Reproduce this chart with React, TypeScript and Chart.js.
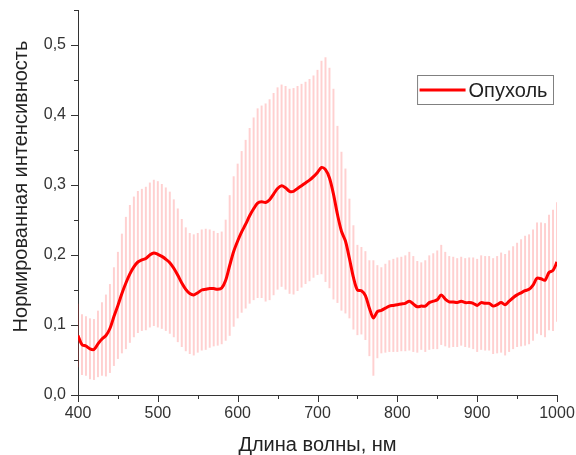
import { useEffect, useRef } from 'react';
import { Chart, registerables } from 'chart.js';

Chart.register(...registerables);

const wavelengths = [
  400, 405, 410, 415, 420, 425, 430, 435, 440, 445,
  450, 455, 460, 465, 470, 475, 480, 485, 490, 495,
  500, 505, 510, 515, 520, 525, 530, 535, 540, 545,
  550, 555, 560, 565, 570, 575, 580, 585, 590, 595,
  600, 605, 610, 615, 620, 625, 630, 635, 640, 645,
  650, 655, 660, 665, 670, 675, 680, 685, 690, 695,
  700, 705, 710, 715, 720, 725, 730, 735, 740, 745,
  750, 755, 760, 765, 770, 775, 780, 785, 790, 795,
  800, 805, 810, 815, 820, 825, 830, 835, 840, 845,
  850, 855, 860, 865, 870, 875, 880, 885, 890, 895,
  900, 905, 910, 915, 920, 925, 930, 935, 940, 945,
  950, 955, 960, 965, 970, 975, 980, 985, 990, 995,
  1000,
];

const meanIntensity = [
  0.085, 0.072, 0.070, 0.066, 0.065, 0.073, 0.080, 0.085, 0.095, 0.112,
  0.128, 0.145, 0.160, 0.173, 0.183, 0.190, 0.193, 0.195, 0.200, 0.203,
  0.201, 0.198, 0.194, 0.189, 0.181, 0.171, 0.160, 0.151, 0.145, 0.143,
  0.146, 0.150, 0.151, 0.152, 0.152, 0.151, 0.153, 0.164, 0.185, 0.205,
  0.220, 0.233, 0.244, 0.256, 0.266, 0.274, 0.276, 0.275, 0.279, 0.287,
  0.295, 0.299, 0.296, 0.291, 0.291, 0.295, 0.299, 0.303, 0.307, 0.312,
  0.318, 0.325, 0.322, 0.310, 0.287, 0.258, 0.234, 0.220, 0.195, 0.168,
  0.150, 0.149, 0.142, 0.124, 0.110, 0.119, 0.121, 0.124, 0.127, 0.128,
  0.129, 0.130, 0.131, 0.134, 0.130, 0.126, 0.127, 0.127, 0.132, 0.134,
  0.136, 0.143, 0.137, 0.133, 0.133, 0.132, 0.134, 0.132, 0.132, 0.131,
  0.128, 0.132, 0.131, 0.131, 0.127, 0.129, 0.132, 0.129, 0.134, 0.139,
  0.143, 0.146, 0.149, 0.151, 0.157, 0.167, 0.166, 0.164, 0.175, 0.178,
  0.190,
];

const errorIntensity = [
  0.045, 0.043, 0.042, 0.043, 0.043, 0.047, 0.052, 0.058, 0.063, 0.070,
  0.076, 0.085, 0.094, 0.098, 0.100, 0.101, 0.101, 0.102, 0.103, 0.104,
  0.104, 0.103, 0.102, 0.101, 0.098, 0.095, 0.091, 0.088, 0.086, 0.086,
  0.085, 0.086, 0.086, 0.084, 0.082, 0.080, 0.080, 0.086, 0.100, 0.107,
  0.110, 0.115, 0.120, 0.125, 0.130, 0.135, 0.137, 0.141, 0.143, 0.144,
  0.144, 0.144, 0.145, 0.146, 0.147, 0.146, 0.145, 0.144, 0.144, 0.144,
  0.146, 0.152, 0.160, 0.157, 0.150, 0.126, 0.113, 0.103, 0.085, 0.074,
  0.064, 0.062, 0.063, 0.068, 0.082, 0.066, 0.061, 0.063, 0.065, 0.066,
  0.067, 0.067, 0.068, 0.070, 0.068, 0.065, 0.062, 0.065, 0.067, 0.068,
  0.070, 0.071, 0.067, 0.065, 0.064, 0.063, 0.063, 0.063, 0.064, 0.065,
  0.066, 0.067, 0.067, 0.067, 0.068, 0.069, 0.071, 0.072, 0.072, 0.073,
  0.074, 0.076, 0.078, 0.078, 0.079, 0.079, 0.080, 0.081, 0.082, 0.086,
  0.085,
];

const seriesLabel = 'Опухоль';
const xTitle = 'Длина волны, нм';
const yTitle = 'Нормированная интенсивность';

const FONT = 'Arial, "Liberation Sans", sans-serif';
const AXIS_COLOR = '#333333';
const TEXT_COLOR = '#222222';

export default function App() {
  const canvasRef = useRef<HTMLCanvasElement>(null);

  useEffect(() => {
    if (!canvasRef.current) return;

    const lineData = wavelengths.map((x, i) => ({ x, y: meanIntensity[i] }));
    const barData = wavelengths.map((x, i) => ({
      x,
      y: [meanIntensity[i] - errorIntensity[i], meanIntensity[i] + errorIntensity[i]],
    }));

    const decorPlugin = {
      id: 'decor',
      afterDraw(chart: any) {
        const { ctx, chartArea } = chart;
        const xs = chart.scales.x;
        const ys = chart.scales.y;
        ctx.save();
        ctx.strokeStyle = AXIS_COLOR;
        ctx.lineWidth = 1;
        ctx.beginPath();
        xs.ticks.forEach((t: any) => {
          const px = Math.round(xs.getPixelForValue(t.value)) + 0.5;
          const len = Math.round(t.value) % 100 === 0 ? 7 : 4;
          ctx.moveTo(px, chartArea.bottom);
          ctx.lineTo(px, chartArea.bottom + len);
        });
        ys.ticks.forEach((t: any) => {
          const py = Math.round(ys.getPixelForValue(t.value)) + 0.5;
          const len = Math.round(t.value * 100) % 10 === 0 ? 7 : 4;
          ctx.moveTo(chartArea.left, py);
          ctx.lineTo(chartArea.left - len, py);
        });
        ctx.stroke();

        // Y axis title
        ctx.fillStyle = TEXT_COLOR;
        ctx.font = `20px ${FONT}`;
        ctx.textAlign = 'center';
        ctx.textBaseline = 'middle';
        ctx.save();
        ctx.translate(21, (chartArea.top + chartArea.bottom) / 2 - 16);
        ctx.rotate(-Math.PI / 2);
        ctx.fillText(yTitle, 0, 0);
        ctx.restore();

        // Legend
        const ds = chart.data.datasets[0];
        ctx.font = `20px ${FONT}`;
        const textW = ctx.measureText(ds.label).width;
        const boxRight = chartArea.right - 3.5;
        const boxTop = chartArea.top + 65.5;
        const boxH = 29;
        const lineLen = 46;
        const boxW = 2 + lineLen + 3 + textW + 6;
        const boxLeft = boxRight - boxW;
        ctx.fillStyle = '#ffffff';
        ctx.fillRect(boxLeft, boxTop, boxW, boxH);
        ctx.strokeStyle = '#808080';
        ctx.lineWidth = 1;
        ctx.strokeRect(boxLeft, boxTop, boxW, boxH);
        ctx.strokeStyle = ds.borderColor;
        ctx.lineWidth = 3;
        ctx.beginPath();
        ctx.moveTo(boxLeft + 2, boxTop + boxH / 2);
        ctx.lineTo(boxLeft + 2 + lineLen, boxTop + boxH / 2);
        ctx.stroke();
        ctx.fillStyle = TEXT_COLOR;
        ctx.textAlign = 'left';
        ctx.textBaseline = 'middle';
        ctx.fillText(ds.label, boxLeft + 2 + lineLen + 3, boxTop + boxH / 2 + 1);
        ctx.restore();
      },
    };

    const chart = new Chart(canvasRef.current, {
      type: 'line',
      data: {
        datasets: [
          {
            type: 'line',
            label: seriesLabel,
            data: lineData,
            borderColor: '#ff0000',
            borderWidth: 3,
            pointRadius: 0,
            tension: 0.3,
            fill: false,
            order: 0,
          } as any,
          {
            type: 'bar',
            label: 'error',
            data: barData,
            backgroundColor: 'rgba(255, 40, 40, 0.22)',
            borderWidth: 0,
            barThickness: 1.3,
            order: 1,
          } as any,
        ],
      },
      options: {
        responsive: false,
        animation: false,
        layout: { padding: { top: 10, right: 19, left: 0, bottom: 0 } },
        plugins: {
          legend: { display: false },
          tooltip: { enabled: false },
        },
        scales: {
          x: {
            type: 'linear',
            min: 400,
            max: 1000,
            offset: false,
            grid: { display: false, drawTicks: false },
            border: { display: true, color: AXIS_COLOR, width: 1 },
            ticks: {
              stepSize: 50,
              autoSkip: false,
              maxRotation: 0,
              padding: 9,
              color: AXIS_COLOR,
              font: { size: 16, family: FONT },
              callback: (v: any) => (Math.round(v) % 100 === 0 ? String(Math.round(v)) : ''),
            },
            title: {
              display: true,
              text: xTitle,
              color: TEXT_COLOR,
              font: { size: 20, family: FONT, lineHeight: 1 },
              padding: { top: 0, bottom: 0 },
            },
            afterFit: (s: any) => {
              s.height = 60;
              s.paddingLeft = 0;
              s.paddingRight = 0;
              s.paddingTop = 0;
              s.paddingBottom = 0;
            },
          },
          y: {
            type: 'linear',
            min: 0,
            max: 0.55,
            grid: { display: false, drawTicks: false },
            border: { display: true, color: AXIS_COLOR, width: 1 },
            ticks: {
              stepSize: 0.05,
              autoSkip: false,
              padding: 12,
              color: AXIS_COLOR,
              font: { size: 16, family: FONT },
              callback: (v: any) => {
                const n = Math.round(v * 100);
                return n % 10 === 0 ? (n / 100).toFixed(1).replace('.', ',') : '';
              },
            },
            afterFit: (s: any) => {
              s.width = 78;
              s.paddingLeft = 0;
              s.paddingRight = 0;
              s.paddingTop = 0;
              s.paddingBottom = 0;
            },
          },
        },
      } as any,
      plugins: [decorPlugin],
    });

    return () => chart.destroy();
  }, []);

  return (
    <div style={{ position: 'absolute', left: 0, top: 0, width: 576, height: 455, background: '#fff' }}>
      <canvas ref={canvasRef} width={576} height={455} />
    </div>
  );
}
